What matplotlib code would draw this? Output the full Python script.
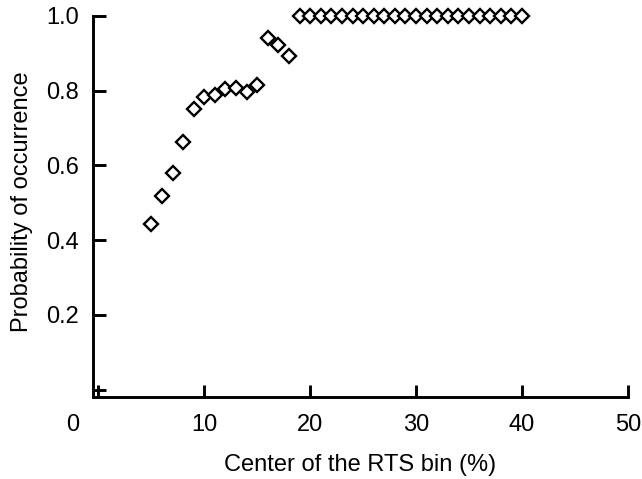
import matplotlib
matplotlib.use('Agg')
import matplotlib.pyplot as plt

# RTS bin centers (%) and probability of occurrence
bin_center = [5, 6, 7, 8, 9, 10, 11, 12, 13, 14, 15, 16, 17, 18,
              19, 20, 21, 22, 23, 24, 25, 26, 27, 28, 29, 30,
              31, 32, 33, 34, 35, 36, 37, 38, 39, 40]
prob = [0.442, 0.518, 0.580, 0.663, 0.750, 0.782, 0.789, 0.804, 0.807,
        0.795, 0.815, 0.940, 0.923, 0.893,
        1.0, 1.0, 1.0, 1.0, 1.0, 1.0, 1.0, 1.0, 1.0, 1.0, 1.0, 1.0,
        1.0, 1.0, 1.0, 1.0, 1.0, 1.0, 1.0, 1.0, 1.0, 1.0]

x_ticks = [0, 10, 20, 30, 40, 50]
x_ticklabels = ['', '10', '20', '30', '40', '50']
y_ticks = [0, 0.2, 0.4, 0.6, 0.8, 1.0]
y_ticklabels = ['', '0.2', '0.4', '0.6', '0.8', '1.0']

plt.rcParams['font.family'] = ['Liberation Sans', 'DejaVu Sans']
plt.rcParams['font.size'] = 17

fig = plt.figure(figsize=(6.42, 4.79), dpi=100)
ax = fig.add_axes([0.145, 0.171, 0.833, 0.796])

ax.plot(bin_center, prob, linestyle='none', marker='D', markersize=7.5,
        markerfacecolor='white', markeredgecolor='black', markeredgewidth=1.7,
        clip_on=False, zorder=3)

ax.set_xlim(-0.5, 50)
ax.set_ylim(-0.02, 1.0)
ax.set_xticks(x_ticks)
ax.set_xticklabels(x_ticklabels)
ax.set_yticks(y_ticks)
ax.set_yticklabels(y_ticklabels)

for side in ['top', 'right']:
    ax.spines[side].set_visible(False)
for side in ['left', 'bottom']:
    ax.spines[side].set_linewidth(2.1)

ax.tick_params(axis='both', direction='in', length=9, width=2.1)
ax.tick_params(axis='x', pad=12)
ax.tick_params(axis='y', pad=10)

# the "0" label sits left of the axis corner in the original
ax.annotate('0', xy=(-2.4, 0), xycoords=('data', 'axes fraction'),
            xytext=(0, -12), textcoords='offset points',
            ha='center', va='top', fontsize=17, annotation_clip=False)

ax.set_xlabel('Center of the RTS bin (%)', labelpad=13)
ax.set_ylabel('Probability of occurrence')
ax.yaxis.set_label_coords(-0.112, 0.512)

fig.savefig('out.png', dpi=100)
plt.close(fig)
